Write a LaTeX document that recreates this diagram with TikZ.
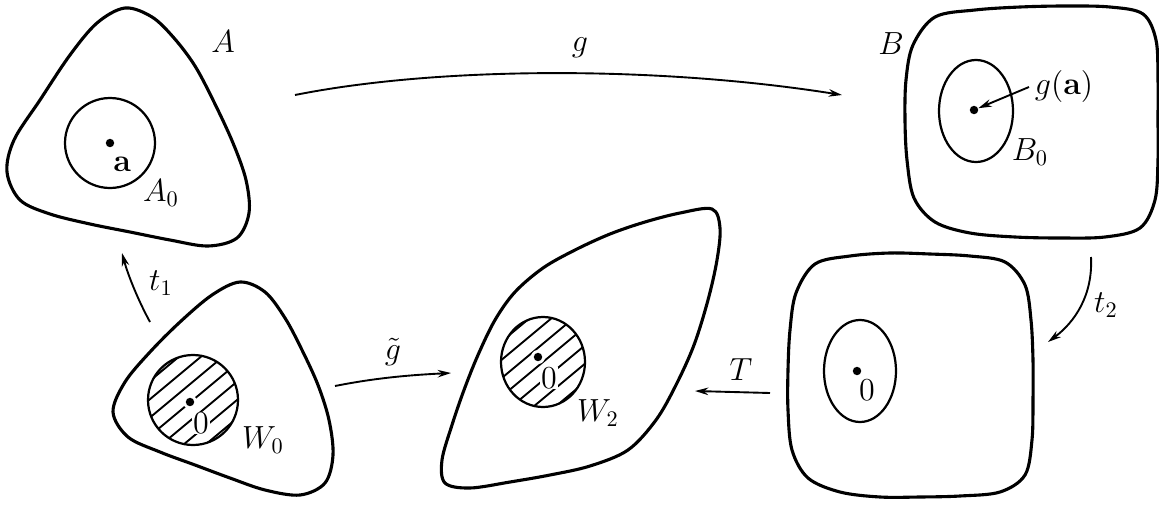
\documentclass[tikz,border=0pt]{standalone}
\usetikzlibrary{arrows.meta}
\begin{document}
\begin{tikzpicture}[x=0.45pt,y=-0.45pt,
  outline/.style={line width=1.4pt, line join=round},
  innerc/.style={line width=1pt},
  hatch/.style={line width=0.85pt},
  conn/.style={line width=0.85pt, -{Stealth[length=6pt,width=3.4pt]}},
  lbl/.style={inner sep=1pt, font=\Large},
  zlbl/.style={inner sep=0.4pt, fill=white, font=\Large},
  dotm/.style={circle, fill=black, inner sep=0pt, minimum size=3.8pt}]
\useasboundingbox (0,0) rectangle (1159,505);

% ---- region A
\draw[outline] plot[smooth cycle, tension=0.55] coordinates {
  (125,8) (152,17) (174,38) (195,66) (214,102) (233,143) (246,180) (249,213)
  (237,238) (208,246) (170,240) (130,232) (90,224) (50,214) (20,200) (7,172)
  (14,140) (40,100) (70,55) (97,23)};
\draw[innerc] (110,143) circle[radius=45];
\node[dotm] (adot) at (110,143) {};
\node[lbl] (la) at (122,164) {$\mathbf{a}$};
\node[lbl] (lA0) at (161,193) {$A_0$};
\node[lbl] (lA) at (223,42) {$A$};

% ---- region B
\draw[outline] plot[smooth cycle, tension=0.55] coordinates {
  (935,17) (975,10) (1020,7) (1065,6) (1110,7) (1143,14) (1156,40) (1158,80)
  (1158,120) (1158,160) (1155,200) (1140,228) (1105,237) (1060,238) (1015,237)
  (970,233) (935,222) (914,198) (907,160) (905,120) (906,80) (913,45)};
\draw[innerc] (976,111) ellipse[x radius=37, y radius=51];
\node[dotm] (bdot) at (974,110) {};
\node[lbl] (lga) at (1064,86) {$g(\mathbf{a})$};
\node[lbl] (lB0) at (1030,152) {$B_0$};
\node[lbl] (lB) at (891,44) {$B$};
\coordinate (gas) at (1029,87);
\draw[conn] (gas) -- (bdot);

% ---- region reached by t2
\draw[outline] plot[smooth cycle, tension=0.55] coordinates {
  (815,264) (850,256) (890,253) (930,254) (970,256) (1005,262) (1025,285)
  (1031,320) (1033,360) (1033,400) (1032,440) (1025,475) (1000,492) (960,496)
  (920,497) (880,497) (840,492) (808,478) (792,450) (788,410) (788,370)
  (790,330) (796,293)};
\draw[innerc] (860,371) ellipse[x radius=36, y radius=51];
\node[dotm] (cdot) at (857,371) {};
\node[lbl] (c0) at (867,390) {$0$};

% ---- region W0
\draw[outline] plot[smooth cycle, tension=0.55] coordinates {
  (240,282) (265,292) (285,318) (302,350) (318,385) (329,420) (333,455)
  (325,483) (300,495) (265,490) (230,478) (195,465) (160,452) (128,437)
  (113,412) (125,382) (150,352) (180,322) (212,295)};
\begin{scope}
  \clip (193,400) circle[radius=45];
  \foreach \k in {-154,-132,...,154}
    \draw[hatch] ({193+\k-90},475) -- ({193+\k+90},325);
\end{scope}
\draw[innerc] (193,400) circle[radius=45];
\fill[white] (190,402) circle[radius=7];
\node[dotm] (w0dot) at (190,402) {};
\node[zlbl] (w00) at (201,423) {$0$};
\node[lbl] (lW0) at (263,440) {$W_0$};

% ---- region W2
\draw[outline] plot[smooth cycle, tension=0.55] coordinates {
  (712,209) (680,213) (645,222) (610,234) (575,250) (543,268) (515,292)
  (495,320) (478,355) (464,390) (452,425) (442,460) (445,483) (470,488)
  (510,482) (550,475) (590,466) (628,450) (656,420) (676,385) (694,345)
  (708,300) (717,260) (720,228)};
\begin{scope}
  \clip (543,362) ellipse[x radius=42, y radius=45];
  \foreach \k in {-154,-132,...,154}
    \draw[hatch] ({543+\k-90},437) -- ({543+\k+90},287);
\end{scope}
\draw[innerc] (543,362) ellipse[x radius=42, y radius=45];
\fill[white] (538,357) circle[radius=7];
\node[dotm] (w2dot) at (538,357) {};
\node[zlbl] (w20) at (549,378) {$0$};
\node[lbl] (lW2) at (598,413) {$W_2$};

% ---- connectors
\coordinate (gs) at (295,95);
\coordinate (ge) at (842,95);
\draw[conn] (gs) .. controls (440,66) and (660,66) .. (ge);
\node[lbl] (lg) at (580,48) {$g$};

\coordinate (t1s) at (150,322);
\coordinate (t1e) at (122,253);
\draw[conn] (t1s) .. controls (138,300) and (128,275) .. (t1e);
\node[lbl] (lt1) at (161,283) {$t_1$};

\coordinate (t2s) at (1091,257);
\coordinate (t2e) at (1048,342);
\draw[conn] (t2s) .. controls (1093,295) and (1075,322) .. (t2e);
\node[lbl] (lt2) at (1106,305) {$t_2$};

\coordinate (gts) at (335,386);
\coordinate (gte) at (451,373);
\draw[conn] (gts) .. controls (375,378) and (410,375) .. (gte);
\node[lbl] (lgt) at (393,352) {$\tilde{g}$};

\coordinate (Ts) at (770,393);
\coordinate (Te) at (695,391);
\draw[conn] (Ts) -- (Te);
\node[lbl] (lT) at (741,370) {$T$};
\end{tikzpicture}
\end{document}
